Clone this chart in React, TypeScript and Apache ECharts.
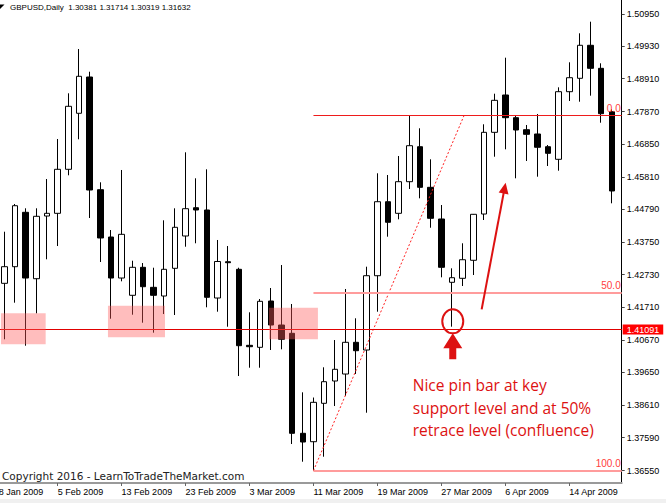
import React, { useEffect, useRef } from "react";
import * as echarts from "echarts";

// ---- data ----
const dates = [
  "29 Jan 2009", "30 Jan 2009", "2 Feb 2009", "3 Feb 2009", "4 Feb 2009", "5 Feb 2009", "6 Feb 2009",
  "9 Feb 2009", "10 Feb 2009", "11 Feb 2009", "12 Feb 2009", "13 Feb 2009", "16 Feb 2009", "17 Feb 2009",
  "18 Feb 2009", "19 Feb 2009", "20 Feb 2009", "23 Feb 2009", "24 Feb 2009", "25 Feb 2009", "26 Feb 2009",
  "27 Feb 2009", "2 Mar 2009", "3 Mar 2009", "4 Mar 2009", "5 Mar 2009", "6 Mar 2009", "9 Mar 2009",
  "10 Mar 2009", "11 Mar 2009", "12 Mar 2009", "13 Mar 2009", "16 Mar 2009", "17 Mar 2009", "18 Mar 2009",
  "19 Mar 2009", "20 Mar 2009", "23 Mar 2009", "24 Mar 2009", "25 Mar 2009", "26 Mar 2009", "27 Mar 2009",
  "30 Mar 2009", "31 Mar 2009", "1 Apr 2009", "2 Apr 2009", "3 Apr 2009", "6 Apr 2009", "7 Apr 2009",
  "8 Apr 2009", "9 Apr 2009", "10 Apr 2009", "13 Apr 2009", "14 Apr 2009", "15 Apr 2009", "16 Apr 2009",
  "17 Apr 2009", "20 Apr 2009",
];
const opens = [
  1.42458, 1.42982, 1.44697, 1.42603, 1.4458, 1.44665, 1.46053, 1.47819, 1.48963, 1.4541,
  1.43918, 1.42625, 1.4208, 1.42963, 1.42332, 1.42058, 1.42931, 1.4395, 1.44842, 1.4477,
  1.41995, 1.43139, 1.429, 1.40503, 1.4044, 1.419, 1.41143, 1.40882, 1.37729, 1.37464,
  1.38675, 1.39378, 1.39598, 1.40598, 1.40355, 1.42698, 1.45031, 1.44665, 1.45662, 1.46765,
  1.45485, 1.44486, 1.4249, 1.42616, 1.43184, 1.44643, 1.47219, 1.48396, 1.4768, 1.47301,
  1.47166, 1.46765, 1.46368, 1.485, 1.48922, 1.49963, 1.49237, 1.47869,
];
const closes = [
  1.42982, 1.44905, 1.42625, 1.44571, 1.44665, 1.46053, 1.48039, 1.48985, 1.454, 1.43887,
  1.42625, 1.44003, 1.42963, 1.42351, 1.4208, 1.429, 1.44224, 1.44811, 1.4477, 1.42017,
  1.43146, 1.43108, 1.40491, 1.40459, 1.41891, 1.41143, 1.40693, 1.37729, 1.37454, 1.38706,
  1.39356, 1.39747, 1.40598, 1.40333, 1.42698, 1.45031, 1.44382, 1.45662, 1.46797, 1.45485,
  1.44508, 1.42963, 1.42635, 1.43202, 1.44634, 1.47219, 1.48228, 1.4768, 1.47292, 1.47156,
  1.46747, 1.46557, 1.485, 1.48941, 1.49963, 1.49237, 1.47806, 1.45369,
];
const lows = [
  1.40693, 1.41847, 1.40491, 1.41512, 1.43215, 1.43634, 1.45864, 1.46999, 1.44517, 1.4313,
  1.41342, 1.42521, 1.41468, 1.41216, 1.40901, 1.4149, 1.41459, 1.43612, 1.4372, 1.41702,
  1.41563, 1.4109, 1.39535, 1.39797, 1.39797, 1.40355, 1.40377, 1.37391, 1.36833, 1.3655,
  1.36991, 1.38589, 1.38905, 1.39598, 1.38378, 1.41563, 1.43928, 1.44476, 1.45432, 1.45138,
  1.44211, 1.42647, 1.41091, 1.42373, 1.4272, 1.44454, 1.4645, 1.46683, 1.45769, 1.46315,
  1.4582, 1.46157, 1.46009, 1.48206, 1.48184, 1.48374, 1.47522, 1.44981,
];
const highs = [
  1.44085, 1.44959, 1.44823, 1.44823, 1.45747, 1.47008, 1.48449, 1.49846, 1.4913, 1.45643,
  1.44139, 1.46031, 1.43171, 1.43098, 1.4295, 1.44445, 1.44823, 1.46589, 1.45769, 1.46053,
  1.43824, 1.43634, 1.4295, 1.41544, 1.41963, 1.4231, 1.43035, 1.41806, 1.39021, 1.38857,
  1.3981, 1.4067, 1.42279, 1.41355, 1.42982, 1.45927, 1.45873, 1.46472, 1.47765, 1.47346,
  1.46368, 1.44927, 1.42931, 1.4372, 1.44643, 1.47472, 1.48437, 1.49572, 1.47743, 1.4745,
  1.47797, 1.46819, 1.48638, 1.49427, 1.50341, 1.50707, 1.49395, 1.47945,
];

const xTickIndex = [-1, 5, 11, 17, 23, 29, 35, 41, 47, 53];
const xTickLabels = [
  "28 Jan 2009", "5 Feb 2009", "13 Feb 2009", "23 Feb 2009", "3 Mar 2009",
  "11 Mar 2009", "19 Mar 2009", "27 Mar 2009", "6 Apr 2009", "14 Apr 2009",
];
const yTicks = [
  1.5095, 1.4993, 1.4891, 1.4787, 1.4685, 1.4581, 1.4479, 1.4375,
  1.4273, 1.4171, 1.4067, 1.3965, 1.3861, 1.3759, 1.3655,
];

const titleText = "GBPUSD,Daily  1.30381 1.31714 1.30319 1.31632";
const copyrightText = "Copyright 2016 - LearnToTradeTheMarket.com";
const noteLines = ["Nice pin bar at key", "support level and at 50%", "retrace level (confluence)"];

const supportLevel = 1.41091;
const fibStart = [29, 1.3655];
const fibEnd = [43.15, 1.47765];
const fibLevels = [0, 50, 100];
// [x0, y0, x1, y1] in data units
const zones = [
  [-0.32, 1.40535, 3.875, 1.41512],
  [9.72, 1.40756, 15.07, 1.41752],
  [24.83, 1.40693, 29.42, 1.41689],
];
const pinCircle = [42.07, 1.4126];
const arrowFrom = [44.78, 1.41638];
const arrowTo = [47.03, 1.4563];

const X_MIN = -1;
const X_MAX = 57.92;
const Y_MIN = 1.36162;
const Y_MAX = 1.51391;

const RED = "#dd1111";

export default function App() {
  const ref = useRef<HTMLDivElement>(null);

  useEffect(() => {
    const el = ref.current!;
    const chart = echarts.init(el, null, { renderer: "svg" });
    const candleData = dates.map((_, i) => [i, opens[i], closes[i], lows[i], highs[i]]);
    const fibPrice = (lv: number) => fibEnd[1] - (lv / 100) * (fibEnd[1] - fibStart[1]);

    chart.setOption({
      animation: false,
      textStyle: { fontFamily: "Liberation Sans" },
      grid: {
        left: -6.3,
        right: 44.3,
        top: 0,
        bottom: 20,
        containLabel: false,
        outerBoundsMode: "none",
      },
      xAxis: {
        type: "value",
        min: X_MIN,
        max: X_MAX,
        splitLine: { show: false },
        axisLine: { show: true, onZero: false, lineStyle: { color: "#9a9a9a", width: 2 } },
        axisTick: { show: true, length: 3, customValues: xTickIndex, lineStyle: { color: "#666" } },
        axisLabel: {
          customValues: xTickIndex,
          align: "left",
          margin: 4,
          fontSize: 9,
          color: "#000",
          fontFamily: "Liberation Sans",
          formatter: (v: number) => {
            const i = xTickIndex.indexOf(Math.round(v));
            return i >= 0 ? xTickLabels[i] : "";
          },
        },
      },
      yAxis: {
        type: "value",
        position: "right",
        min: Y_MIN,
        max: Y_MAX,
        splitLine: { show: false },
        axisLine: { show: true, onZero: false, lineStyle: { color: "#000", width: 1 } },
        axisTick: { show: true, length: 3, customValues: yTicks, lineStyle: { color: "#444" } },
        axisLabel: {
          customValues: yTicks,
          margin: 5,
          fontSize: 9,
          color: "#000",
          fontFamily: "Liberation Sans",
          formatter: (v: number) => v.toFixed(5),
        },
      },
      series: [
        {
          type: "candlestick",
          data: candleData,
          encode: { x: 0, y: [1, 2, 3, 4] },
          barWidth: 6,
          itemStyle: {
            color: "#ffffff",
            color0: "#000000",
            borderColor: "#000000",
            borderColor0: "#000000",
            borderWidth: 1,
          },
          markLine: {
            silent: true,
            symbol: ["none", "none"],
            data: [{ yAxis: supportLevel }],
            lineStyle: { color: "#e00000", width: 1, type: "solid" },
            label: {
              position: "end",
              distance: 1,
              formatter: supportLevel.toFixed(5),
              color: "#fff",
              backgroundColor: "#ff0000",
              padding: [1, 4, 0, 4],
              fontSize: 9,
              lineHeight: 9,
              fontFamily: "Liberation Sans",
            },
          },
        },
        {
          type: "line",
          data: [fibStart, fibEnd],
          showSymbol: false,
          symbol: "none",
          z: 4,
          silent: true,
          lineStyle: { color: "#ff2020", width: 1, type: [2, 2] },
          markLine: {
            silent: true,
            symbol: ["none", "none"],
            data: fibLevels.map((lv) => [
              {
                coord: [fibStart[0], fibPrice(lv)],
                lineStyle: lv === 0
                  ? { color: "#ee1c1c", width: 1, type: "solid" }
                  : { color: "#ff9c9c", width: 2, type: "solid" },
                label: { formatter: lv.toFixed(1) },
              },
              { coord: [X_MAX, fibPrice(lv)] },
            ]),
            label: {
              show: true,
              position: "insideEndTop",
              distance: [1, 2],
              color: "#ff4040",
              fontSize: 10,
              fontFamily: "Liberation Sans",
            },
          },
          markArea: {
            z: 10,
            silent: true,
            itemStyle: { color: "rgba(255,90,90,0.4)" },
            data: zones.map((z) => [{ coord: [z[0], z[1]] }, { coord: [z[2], z[3]] }]),
          },
        },
      ],
    });

    const toPx = (p: number[]) => chart.convertToPixel({ gridIndex: 0 }, p) as number[];
    const [cx, cy] = toPx(pinCircle);
    const rx = 10.5;
    const ry = 12;
    const tipY = cy + ry;
    const [tx, ty] = toPx(arrowFrom);
    const [px, py] = toPx(arrowTo);
    const len = Math.hypot(px - tx, py - ty);
    const dx = (px - tx) / len;
    const dy = (py - ty) / len;
    const headLen = 11;
    const headHalf = 5;
    const bx = px - dx * headLen;
    const by = py - dy * headLen;
    const nx = -dy;
    const ny = dx;

    chart.setOption({
      graphic: [
        {
          type: "rect",
          z: 0,
          silent: true,
          shape: { x: 0, y: 499, width: 666, height: 4 },
          style: { fill: "#f0f0f0" },
        },
        {
          type: "polygon",
          z: 100,
          silent: true,
          shape: { points: [[0, 4.5], [4.5, 4.5], [0, 9]] },
          style: { fill: "#000" },
        },
        {
          type: "text",
          z: 100,
          x: 10,
          y: 7.5,
          silent: true,
          style: {
            text: titleText,
            fontSize: 8,
            fontFamily: "Liberation Sans",
            fill: "#000",
            verticalAlign: "middle",
            align: "left",
          },
        },
        {
          type: "text",
          z: 100,
          x: 2,
          y: 476,
          silent: true,
          style: {
            text: copyrightText,
            fontSize: 10.5,
            fontFamily: "DejaVu Sans",
            fill: "#222",
            verticalAlign: "middle",
            align: "left",
          },
        },
        {
          type: "ellipse",
          z: 100,
          silent: true,
          shape: { cx, cy, rx, ry },
          style: { fill: "none", stroke: RED, lineWidth: 2 },
        },
        {
          type: "polygon",
          z: 100,
          silent: true,
          shape: {
            points: [
              [cx, tipY],
              [cx + 9.5, tipY + 15],
              [cx + 3.5, tipY + 15],
              [cx + 3.5, tipY + 26],
              [cx - 3.5, tipY + 26],
              [cx - 3.5, tipY + 15],
              [cx - 9.5, tipY + 15],
            ],
          },
          style: { fill: RED },
        },
        {
          type: "line",
          z: 100,
          silent: true,
          shape: { x1: tx, y1: ty, x2: bx + dx * 1, y2: by + dy * 1 },
          style: { stroke: RED, lineWidth: 2 },
        },
        {
          type: "polygon",
          z: 100,
          silent: true,
          shape: {
            points: [
              [px, py],
              [bx + nx * headHalf, by + ny * headHalf],
              [bx - nx * headHalf, by - ny * headHalf],
            ],
          },
          style: { fill: RED },
        },
        ...noteLines.map((t, i) => ({
          type: "text",
          z: 100,
          silent: true,
          x: cx - 40,
          y: cy + 64 + i * 22.5,
          style: {
            text: t,
            fontSize: 15.5,
            fontFamily: "Open Sans",
            fill: RED,
            verticalAlign: "middle",
            align: "left",
          },
        })),
      ],
    });

    return () => chart.dispose();
  }, []);

  return (
    <div
      ref={ref}
      style={{ position: "fixed", left: 0, top: 0, width: 666, height: 503, background: "#fff" }}
    />
  );
}
